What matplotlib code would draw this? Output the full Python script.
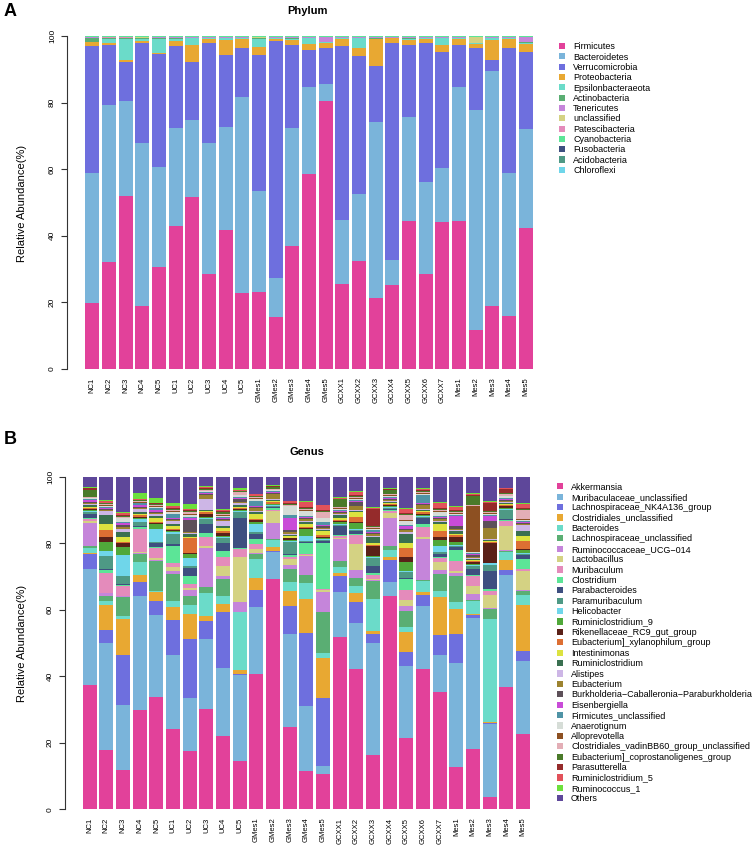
import numpy as np
import matplotlib
matplotlib.use("Agg")
import matplotlib.pyplot as plt
from matplotlib.patches import Patch

plt.rcParams['font.family'] = ['Liberation Sans', 'DejaVu Sans']

samples = ["NC1", "NC2", "NC3", "NC4", "NC5", "UC1", "UC2", "UC3", "UC4", "UC5",
           "GMes1", "GMes2", "GMes3", "GMes4", "GMes5",
           "GCXX1", "GCXX2", "GCXX3", "GCXX4", "GCXX5", "GCXX6", "GCXX7",
           "Mes1", "Mes2", "Mes3", "Mes4", "Mes5"]

# ---------------- Phylum (panel A) ----------------
phyla = ["Firmicutes", "Bacteroidetes", "Verrucomicrobia", "Proteobacteria",
         "Epsilonbacteraeota", "Actinobacteria", "Tenericutes", "unclassified",
         "Patescibacteria", "Cyanobacteria", "Fusobacteria", "Acidobacteria", "Chloroflexi"]
phylum_colors = ["#E2419A", "#7AB4DA", "#6E6FDE", "#E8A832", "#6BDBC9", "#5AAE73",
                 "#C585DA", "#D4D283", "#E48BBB", "#5CE597", "#3E4F80", "#4E9985", "#6FD6EA"]

firmicutes = [19.9, 32.3, 52.3, 19.1, 30.9, 43.2, 52.0, 28.6, 42.0, 22.9, 23.1, 15.6, 37.2, 58.6, 80.9,
              25.6, 32.4, 21.3, 25.3, 44.7, 28.8, 44.2, 44.7, 11.8, 18.9, 16.0, 42.7]
bacteroidetes = [39.1, 47.2, 28.4, 48.9, 30.1, 29.6, 23.3, 39.4, 30.9, 59.3, 30.7, 11.8, 35.5, 26.2, 5.4,
                 19.3, 20.2, 53.2, 7.7, 31.3, 27.5, 16.2, 40.3, 66.6, 70.6, 43.3, 29.9]
verrucomicrobia = [38.3, 18.1, 11.8, 30.3, 34.0, 24.8, 17.4, 30.4, 21.7, 14.8, 41.0, 71.4, 25.3, 11.3, 10.7,
                   52.4, 41.7, 16.9, 65.4, 21.5, 42.0, 35.2, 12.8, 18.8, 3.5, 37.7, 23.2]
proteobacteria = [1.3, 0.4, 0.6, 0.7, 0.4, 1.5, 5.1, 1.2, 4.5, 2.6, 2.3, 0.8, 1.3, 1.9, 1.6,
                  2.3, 2.5, 8.2, 1.4, 1.5, 1.3, 2.0, 1.8, 1.1, 5.9, 2.6, 2.5]
epsilonbacteraeota = [0.1, 1.4, 6.5, 0.6, 4.2, 0.6, 2.2, 0.2, 0.5, 0.2, 2.5, 0.2, 0.5, 1.6, 0.2,
                      0.2, 2.8, 0.1, 0.1, 0.4, 0.2, 2.0, 0.2, 0.2, 0.6, 0.3, 0.3]
actinobacteria = [1.2, 0.1, 0.1, 0.2, 0.3, 0.3, 0.1, 0.1, 0.2, 0.2, 0.1, 0.1, 0.3, 0.2, 0.1,
                  0.1, 0.2, 0.3, 0.1, 0.2, 0.2, 0.2, 0.1, 0.1, 0.1, 0.2, 0.3]
tenericutes = [0.1, 0.1, 0.1, 0.1, 0.1, 0.1, 0.1, 0.1, 0.1, 0.1, 0.2, 0.1, 0.1, 0.1, 1.4,
               0.1, 0.1, 0.1, 0.1, 0.3, 0.1, 0.1, 0.1, 0.1, 0.1, 0.1, 1.3]
unclassified = [0.1, 0.1, 0.1, 0.1, 0.1, 0.1, 0.1, 0.1, 0.1, 0.1, 0.1, 0.1, 0.1, 0.1, 0.1,
                0.1, 0.1, 0.1, 0.1, 0.1, 0.1, 0.1, 0.1, 1.7, 0.1, 0.1, 0.1]
patescibacteria = [0.1, 0.3, 0.3, 0.2, 0.1, 0.1, 0.1, 0.1, 0.1, 0.1, 0.2, 0.1, 0.1, 0.1, 0.1,
                   0.1, 0.1, 0.1, 0.1, 0.1, 0.1, 0.1, 0.1, 0.1, 0.1, 0.1, 0.1]
cyanobacteria = [0.05] * 27
fusobacteria = [0.05] * 27
acidobacteria = [0.05] * 27
chloroflexi = [0.05] * 27

phylum_series = [firmicutes, bacteroidetes, verrucomicrobia, proteobacteria, epsilonbacteraeota,
                 actinobacteria, tenericutes, unclassified, patescibacteria, cyanobacteria,
                 fusobacteria, acidobacteria, chloroflexi]

# ---------------- Genus (panel B) ----------------
genera = ["Akkermansia", "Muribaculaceae_unclassified", "Lachnospiraceae_NK4A136_group",
          "Clostridiales_unclassified", "Bacteroides", "Lachnospiraceae_unclassified",
          "Ruminococcaceae_UCG\u2212014", "Lactobacillus", "Muribaculum", "Clostridium",
          "Parabacteroides", "Paramuribaculum", "Helicobacter", "Ruminiclostridium_9",
          "Rikenellaceae_RC9_gut_group", "Eubacterium]_xylanophilum_group", "Intestinimonas",
          "Ruminiclostridium", "Alistipes", "Eubacterium",
          "Burkholderia\u2212Caballeronia\u2212Paraburkholderia", "Eisenbergiella",
          "Firmicutes_unclassified", "Anaerotignum", "Alloprevotella",
          "Clostridiales_vadinBB60_group_unclassified", "Eubacterium]_coprostanoligenes_group",
          "Parasutterella", "Ruminiclostridium_5", "Ruminococcus_1", "Others"]
genus_colors = ["#E2419A", "#7AB4DA", "#6E6FDE", "#E8A832", "#6BDBC9", "#5AAE73", "#C585DA",
                "#D4D283", "#E48BBB", "#5CE597", "#3E4F80", "#4E9985", "#6FD6EA", "#50A83A",
                "#5A2118", "#DD6F33", "#DCE23F", "#3A7050", "#CDB6E6", "#9C8330", "#5D5059",
                "#C94BD8", "#4F93A6", "#D6DDD7", "#8D5022", "#E3AEB6", "#4A7A2A", "#952B2B",
                "#E2525A", "#6DE03C", "#5E479A"]

akkermansia = [38.3, 18.0, 11.9, 30.1, 34.3, 24.7, 17.4, 30.3, 21.7, 15.0, 41.0, 71.3, 25.3, 11.2, 10.7,
               52.3, 41.8, 17.0, 65.3, 21.5, 42.3, 35.5, 12.7, 18.7, 3.7, 37.8, 23.2]
muribaculaceae_uncl = [35.8, 33.0, 19.4, 34.4, 25.0, 22.6, 15.9, 21.3, 20.3, 26.5, 20.5, 8.3, 28.8, 19.3, 2.5,
                       13.7, 13.7, 34.6, 4.2, 21.8, 19.0, 11.0, 30.8, 40.8, 22.6, 34.5, 22.6]
lachno_nk4a136 = [4.8, 3.8, 15.2, 4.5, 4.2, 10.8, 17.5, 5.4, 16.8, 0.2, 5.1, 0.4, 8.7, 21.6, 20.3,
                  5.0, 6.5, 2.9, 6.8, 4.2, 3.5, 6.3, 8.6, 0.8, 0.4, 1.5, 3.0]
clostridiales_uncl = [0.3, 7.8, 10.8, 2.0, 2.8, 3.9, 7.7, 1.5, 2.5, 1.4, 3.7, 1.2, 4.8, 10.2, 12.0,
                      0.8, 2.5, 0.8, 0.8, 6.1, 0.8, 11.5, 7.2, 0.5, 0.2, 3.0, 14.3]
bacteroides = [1.4, 1.2, 0.8, 4.0, 0.5, 1.8, 2.5, 7.1, 2.2, 17.7, 5.7, 2.2, 2.5, 4.5, 1.5,
               1.7, 2.3, 9.8, 2.0, 1.4, 3.2, 1.7, 2.3, 4.0, 31.9, 2.5, 3.2]
lachno_uncl = [0.8, 1.5, 5.7, 2.5, 9.0, 8.5, 2.8, 1.7, 5.0, 0.2, 1.6, 0.2, 4.2, 2.5, 12.4,
               2.0, 2.3, 5.7, 1.4, 4.8, 0.5, 5.1, 7.5, 0.3, 3.0, 0.3, 1.3]
rumino_ucg014 = [7.0, 0.8, 0.2, 0.3, 0.4, 1.0, 1.7, 11.8, 1.0, 3.0, 0.3, 5.0, 1.2, 5.5, 6.1,
                 6.8, 2.2, 0.3, 8.6, 1.5, 12.2, 1.2, 1.0, 1.7, 0.3, 0.3, 0.3]
lactobacillus = [0.7, 0.2, 0.1, 0.3, 0.7, 1.2, 0.6, 0.7, 3.0, 13.8, 1.2, 3.8, 2.0, 0.3, 0.5,
                 0.3, 8.0, 0.3, 1.4, 1.8, 0.8, 2.5, 0.7, 2.6, 4.0, 7.6, 5.9]
muribaculum = [0.6, 6.0, 3.0, 7.0, 3.0, 1.0, 1.4, 2.7, 2.6, 2.5, 1.5, 0.3, 0.6, 0.4, 0.5,
               0.4, 2.5, 1.3, 0.5, 3.2, 3.0, 1.0, 3.0, 3.2, 1.3, 1.4, 0.6]
clostridium = [0.3, 1.0, 0.3, 0.5, 0.3, 5.3, 2.3, 1.3, 2.0, 0.3, 1.3, 0.5, 0.4, 3.3, 13.9,
               0.3, 0.3, 0.7, 0.3, 3.2, 0.7, 0.4, 3.0, 0.3, 0.5, 0.3, 2.9]
parabacteroides = [1.2, 0.3, 0.3, 0.3, 1.0, 0.7, 2.3, 2.5, 2.2, 9.2, 1.7, 0.3, 0.5, 0.3, 0.6,
                   2.8, 1.0, 2.0, 0.3, 0.3, 1.8, 1.0, 1.0, 1.7, 5.8, 0.3, 1.3]
paramuribaculum = [0.5, 3.9, 2.5, 1.2, 0.5, 3.0, 0.7, 1.5, 1.5, 2.0, 0.5, 0.4, 3.6, 0.3, 0.3,
                   0.3, 0.3, 2.5, 0.4, 1.7, 0.5, 0.4, 0.4, 1.0, 1.7, 2.7, 0.4]
helicobacter = [0.3, 1.5, 6.3, 0.8, 4.0, 0.5, 2.3, 0.3, 0.3, 0.2, 2.5, 0.2, 0.3, 1.3, 0.3,
                0.3, 0.3, 0.3, 0.3, 0.4, 0.3, 1.9, 0.3, 0.3, 0.5, 0.3, 0.3]
ruminiclostridium_9 = [0.4, 2.8, 2.5, 0.4, 1.5, 0.5, 1.2, 0.3, 0.3, 0.3, 0.5, 0.3, 0.4, 2.0, 0.3,
                       0.5, 1.7, 0.3, 0.3, 2.8, 0.3, 1.8, 0.7, 0.3, 0.3, 0.3, 0.8]
rikenellaceae_rc9 = [0.2, 1.5, 1.0, 0.3, 0.3, 0.2, 0.3, 1.0, 1.0, 0.5, 0.7, 0.2, 0.4, 0.3, 0.2,
                     0.3, 0.3, 3.3, 0.3, 1.5, 0.3, 1.0, 1.7, 0.7, 6.0, 0.8, 0.3]
eub_xylanophilum = [0.4, 2.2, 0.3, 0.5, 0.4, 0.3, 4.5, 0.5, 0.4, 0.3, 0.4, 0.5, 0.3, 0.3, 0.5,
                    0.4, 1.5, 0.3, 0.4, 2.7, 0.4, 1.7, 0.4, 0.3, 0.3, 0.3, 2.4]
intestinimonas = [0.4, 1.8, 1.5, 0.5, 1.0, 1.0, 0.3, 0.3, 1.0, 0.3, 1.5, 0.3, 0.4, 1.0, 1.2,
                  0.5, 1.5, 0.5, 0.3, 1.6, 0.3, 2.3, 0.4, 0.3, 0.3, 0.3, 1.6]
ruminiclostridium = [0.5, 2.7, 1.5, 0.5, 0.6, 0.5, 1.0, 0.5, 0.5, 0.5, 0.5, 0.3, 0.5, 0.5, 0.4,
                     1.0, 0.4, 2.0, 0.3, 2.7, 0.4, 0.4, 0.8, 0.3, 0.3, 0.3, 1.7]
alistipes = [0.5, 1.4, 1.0, 1.0, 0.6, 1.0, 0.3, 3.2, 1.5, 0.8, 0.3, 0.3, 0.3, 0.4, 0.3,
             0.3, 0.3, 0.3, 0.3, 0.4, 0.4, 0.4, 0.3, 0.3, 0.5, 0.3, 1.7]
eubacterium = [0.3, 0.3, 0.5, 0.3, 0.3, 0.3, 0.3, 1.2, 0.3, 0.3, 1.0, 1.5, 0.5, 0.7, 0.4,
               0.4, 1.3, 0.4, 0.4, 0.8, 1.2, 0.5, 0.4, 0.3, 3.3, 0.4, 0.4]
burkholderia = [0.2, 0.3, 0.6, 0.3, 0.3, 0.3, 3.5, 0.3, 0.3, 0.8, 0.3, 0.5, 0.6, 0.3, 0.4,
                0.3, 1.0, 0.3, 0.3, 0.3, 0.3, 0.4, 0.9, 0.5, 2.2, 0.3, 0.3]
eisenbergiella = [0.5, 0.3, 0.8, 0.6, 0.8, 0.4, 0.5, 0.3, 0.3, 0.3, 0.3, 0.2, 3.7, 0.3, 0.4,
                  0.3, 0.3, 0.5, 0.3, 0.7, 0.3, 0.3, 2.8, 0.3, 1.6, 0.3, 0.3]
firmicutes_uncl = [0.4, 0.3, 0.3, 0.4, 0.4, 1.3, 0.5, 0.3, 0.3, 0.3, 1.5, 0.3, 1.0, 0.3, 1.0,
                   0.4, 0.3, 0.5, 0.3, 0.4, 2.3, 0.4, 0.4, 0.3, 0.3, 0.3, 0.3]
anaerotignum = [0.3, 0.3, 1.0, 0.2, 0.5, 0.5, 0.5, 0.4, 0.5, 0.5, 0.5, 0.3, 2.6, 1.5, 1.0,
                0.3, 0.3, 0.3, 0.3, 1.2, 0.3, 1.2, 0.4, 0.3, 0.3, 0.4, 0.3]
alloprevotella = [0.1, 0.1, 0.2, 0.1, 0.1, 0.2, 0.2, 0.1, 0.2, 0.2, 0.2, 0.2, 0.2, 0.2, 0.2,
                  0.2, 0.2, 0.3, 0.2, 0.2, 0.3, 0.2, 0.3, 14.5, 0.2, 0.3, 0.2]
vadinbb60 = [0.3, 0.3, 0.3, 0.3, 0.5, 0.5, 0.6, 0.3, 0.3, 0.8, 0.3, 0.3, 0.3, 0.3, 1.8,
             0.4, 0.4, 0.3, 0.3, 1.6, 0.3, 0.4, 0.3, 0.3, 0.3, 0.4, 3.0]
coprostanoligenes = [2.2, 0.3, 0.3, 0.3, 0.3, 0.3, 0.4, 0.3, 0.5, 0.3, 0.3, 0.5, 0.3, 0.3, 0.4,
                     2.2, 0.3, 0.3, 1.2, 0.3, 0.4, 0.3, 0.3, 2.7, 0.3, 0.3, 0.3]
parasutterella = [0.5, 0.3, 0.3, 0.2, 0.2, 0.3, 0.3, 0.2, 0.3, 0.2, 0.2, 0.2, 0.3, 0.2, 0.2,
                  0.2, 0.4, 5.4, 0.2, 0.3, 0.2, 0.3, 0.2, 0.3, 2.5, 1.2, 0.3]
ruminiclostridium_5 = [0.1, 0.5, 0.6, 0.2, 0.2, 0.6, 0.4, 0.2, 0.5, 0.3, 0.5, 0.2, 0.5, 1.4, 1.4,
                       0.3, 0.7, 0.3, 0.2, 1.4, 0.3, 1.5, 0.8, 0.3, 0.3, 0.3, 1.3]
ruminococcus_1 = [0.3, 0.3, 0.2, 2.0, 1.3, 0.8, 1.5, 0.4, 0.2, 0.4, 0.2, 0.2, 0.2, 0.5, 0.2,
                  0.3, 0.3, 0.3, 0.3, 0.2, 0.5, 0.3, 0.3, 0.3, 0.2, 0.2, 0.2]
others = [3.1, 7.1, 10.6, 4.8, 6.6, 8.1, 8.1, 2.8, 9.6, 3.6, 5.1, 2.6, 7.4, 7.1, 8.4,
          6.1, 4.4, 9.4, 3.4, 9.4, 3.3, 7.6, 8.8, 5.1, 7.6, 3.4, 8.1]

genus_series = [akkermansia, muribaculaceae_uncl, lachno_nk4a136, clostridiales_uncl, bacteroides,
                lachno_uncl, rumino_ucg014, lactobacillus, muribaculum, clostridium, parabacteroides,
                paramuribaculum, helicobacter, ruminiclostridium_9, rikenellaceae_rc9, eub_xylanophilum,
                intestinimonas, ruminiclostridium, alistipes, eubacterium, burkholderia, eisenbergiella,
                firmicutes_uncl, anaerotignum, alloprevotella, vadinbb60, coprostanoligenes,
                parasutterella, ruminiclostridium_5, ruminococcus_1, others]

# ---------------- Figure ----------------
W, H = 753, 852
fig = plt.figure(figsize=(W / 100, H / 100), dpi=100)


def make_axes(top_px, bottom_px, left_px, right_px, center0_px, pitch_px):
    ax = fig.add_axes([left_px / W, 1 - bottom_px / H, (right_px - left_px) / W,
                       (bottom_px - top_px) / H])
    ax.set_xlim((left_px - center0_px) / pitch_px, (right_px - center0_px) / pitch_px)
    ax.set_ylim(0, 100)
    return ax


def stacked(ax, series, colors):
    data = np.array(series, dtype=float)
    data = data / data.sum(axis=0) * 100.0
    x = np.arange(len(samples))
    bottom = np.zeros(len(samples))
    for vals, c in zip(data, colors):
        ax.bar(x, vals, width=0.84, bottom=bottom, color=c, linewidth=0)
        bottom += vals
    for s in ["top", "right", "bottom"]:
        ax.spines[s].set_visible(False)
    ax.spines["left"].set_bounds(0, 100)
    ax.spines["left"].set_linewidth(0.8)
    ax.spines["left"].set_color("#333333")
    ax.set_yticks([0, 20, 40, 60, 80, 100])
    ax.tick_params(axis="y", length=4, width=0.8, color="#333333", labelsize=6,
                   labelrotation=90, pad=4)
    for t in ax.get_yticklabels():
        t.set_va("center")
    ax.set_xticks(x)
    ax.set_xticklabels(samples, rotation=90, fontsize=5.5)
    ax.tick_params(axis="x", length=0, pad=6)


axA = make_axes(36, 369, 67, 540, 92.3, 16.67)
stacked(axA, phylum_series, phylum_colors)
axB = make_axes(476.7, 809.3, 65, 540, 89.7, 16.67)
stacked(axB, genus_series, genus_colors)

fig.text(22 / W, 1 - 203 / H, "Relative Abundance(%)", rotation=90, ha="center", va="center",
         fontsize=8)
fig.text(22 / W, 1 - 643 / H, "Relative Abundance(%)", rotation=90, ha="center", va="center",
         fontsize=8)
fig.text(307 / W, 1 - 11 / H, "Phylum", ha="center", va="center", fontsize=8, fontweight="bold")
fig.text(307 / W, 1 - 452 / H, "Genus", ha="center", va="center", fontsize=8, fontweight="bold")
fig.text(4 / W, 1 - 12 / H, "A", ha="left", va="center", fontsize=13, fontweight="bold")
fig.text(4 / W, 1 - 440 / H, "B", ha="left", va="center", fontsize=13, fontweight="bold")

handlesA = [Patch(facecolor=c, edgecolor="none") for c in phylum_colors]
fig.legend(handlesA, phyla, loc="upper left", bbox_to_anchor=(559 / W, 1 - 42.3 / H),
           bbox_transform=fig.transFigure, frameon=False, fontsize=6.5, borderpad=0,
           borderaxespad=0, labelspacing=0.145, handlelength=0.66, handleheight=0.66,
           handletextpad=0.9)
handlesB = [Patch(facecolor=c, edgecolor="none") for c in genus_colors]
fig.legend(handlesB, genera, loc="upper left", bbox_to_anchor=(557 / W, 1 - 482.5 / H),
           bbox_transform=fig.transFigure, frameon=False, fontsize=6.5, borderpad=0,
           borderaxespad=0, labelspacing=0.155, handlelength=0.66, handleheight=0.66,
           handletextpad=0.9)

fig.savefig("out.png", dpi=100)
